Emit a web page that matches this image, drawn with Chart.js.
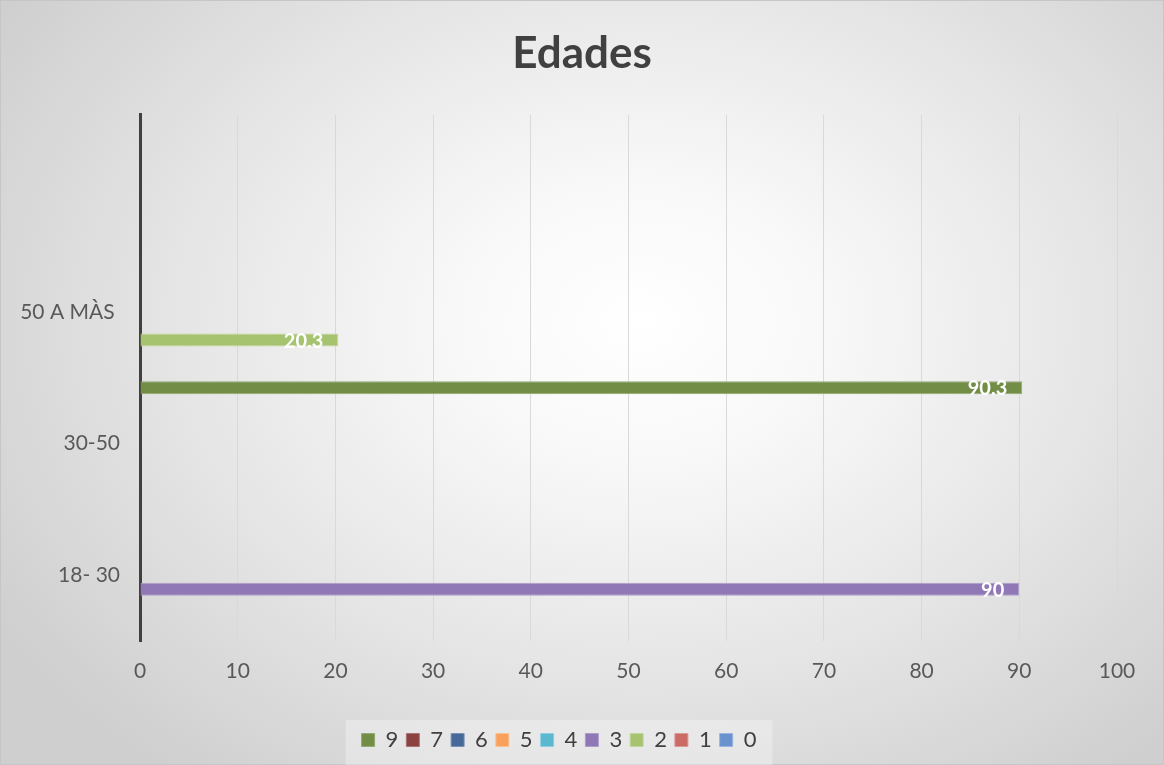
<!DOCTYPE html>
<html>
<head>
<meta charset="utf-8">
<script src="https://cdn.jsdelivr.net/npm/chart.js@4/dist/chart.umd.min.js"></script>
<style>
  html, body { margin: 0; padding: 0; }
  #wrap {
    width: 1164px; height: 765px;
    background: radial-gradient(ellipse 65% 75% at 55% 42%, #ffffff 0%, #f8f8f8 25%, #e6e6e6 60%, #cfcfcf 100%);
    box-shadow: inset 0 0 0 1px #c6c6c6;
  }
</style>
</head>
<body>
<div id="wrap"><canvas id="edades-chart" width="1164" height="765"></canvas></div>
<script>
// categories from top to bottom (the top one has no label)
var categories = ['', '50 A MÀS ', '30-50', '18- 30'];

// series, in legend order
var seriesNames = ['9', '7', '6', '5', '4', '3', '2', '1', '0'];
var s9 = [null, null, 90.3, null];
var s7 = [null, null, null, null];
var s6 = [null, null, null, null];
var s5 = [null, null, null, null];
var s4 = [null, null, null, null];
var s3 = [null, null, null, 90];
var s2 = [null, 20.3, null, null];
var s1 = [null, null, null, null];
var s0 = [null, null, null, null];
var seriesValues = [s9, s7, s6, s5, s4, s3, s2, s1, s0];

var fills = ['#728d46', '#8c4340', '#46699a', '#f9a05e', '#5cb8cf', '#8f78b5', '#a6c46f', '#cc6a66', '#6992ce'];
var edges = ['#93a875', '#a87472', '#7790b5', '#fbbf90', '#8ccde0', '#ae9dcb', '#c1d69b', '#dc9a97', '#98b4de'];

var xTicks = [0, 10, 20, 30, 40, 50, 60, 70, 80, 90, 100];

var fontFamily = 'Lato, "Open Sans", sans-serif';

var datasets = [];
for (var i = 0; i < seriesNames.length; i++) {
    datasets.push({
        label: seriesNames[i],
        data: seriesValues[i],
        backgroundColor: fills[i],
        borderColor: edges[i],
        borderWidth: 1,
        categoryPercentage: 0.956,
        barPercentage: 0.93
    });
}

// white value labels at the inner end of each bar
var valueLabels = {
    id: 'valueLabels',
    afterDatasetsDraw: function (chart) {
        var ctx = chart.ctx;
        ctx.save();
        ctx.fillStyle = '#ffffff';
        ctx.font = 'bold 20px ' + fontFamily;
        ctx.textAlign = 'right';
        ctx.textBaseline = 'middle';
        chart.data.datasets.forEach(function (ds, di) {
            var meta = chart.getDatasetMeta(di);
            meta.data.forEach(function (bar, k) {
                var v = ds.data[k];
                if (v === null || v === undefined) return;
                ctx.fillText(String(v), bar.x - 15, bar.y + 1);
            });
        });
        ctx.restore();
    }
};

// legend sits centred under the plot + axis block, not the whole canvas;
// also paints a light panel behind it
var legendPanel = {
    id: 'legendPanel',
    afterLayout: function (chart) {
        var lg = chart.legend;
        if (!lg) return;
        lg.left -= 23;
        lg.right -= 23;
    },
    beforeDraw: function (chart) {
        var lg = chart.legend;
        if (!lg || !lg.lineWidths) return;
        var w = lg.lineWidths[0];
        var left = (lg.left + lg.right) / 2 - w / 2;
        var ctx = chart.ctx;
        ctx.save();
        ctx.fillStyle = 'rgba(255,255,255,0.3)';
        ctx.fillRect(left - 12, 720, w + 24, 45);
        ctx.restore();
    }
};

var ctx = document.getElementById('edades-chart').getContext('2d');
var chart = new Chart(ctx, {
    type: 'bar',
    data: {
        labels: categories,
        datasets: datasets
    },
    plugins: [legendPanel, valueLabels],
    options: {
        indexAxis: 'y',
        responsive: false,
        animation: false,
        layout: {
            padding: { left: 0, right: 0, top: 0, bottom: 4 }
        },
        plugins: {
            title: {
                display: true,
                text: 'Edades',
                color: '#404040',
                font: { family: fontFamily, size: 44, weight: 'bold' },
                padding: { top: 27, bottom: 35 }
            },
            legend: {
                position: 'bottom',
                labels: {
                    color: '#404040',
                    font: { family: fontFamily, size: 22 },
                    boxWidth: 13,
                    boxHeight: 13,
                    padding: 8
                }
            },
            tooltip: { enabled: false }
        },
        scales: {
            x: {
                min: 0,
                max: 100,
                afterBuildTicks: function (scale) {
                    scale.ticks = xTicks.map(function (v) { return { value: v }; });
                },
                afterFit: function (scale) {
                    scale.height = 80;
                    scale.paddingRight = 47;
                },
                grid: {
                    color: '#d9d9d9',
                    lineWidth: 1,
                    drawTicks: false
                },
                border: { display: false },
                ticks: {
                    color: '#595959',
                    font: { family: fontFamily, size: 21 },
                    padding: 18
                }
            },
            y: {
                grid: { display: false, drawTicks: false },
                border: { display: true, color: '#404040', width: 3 },
                ticks: {
                    color: '#595959',
                    font: { family: fontFamily, size: 21 },
                    padding: 20,
                    autoSkip: false
                },
                afterFit: function (scale) {
                    scale.width = 140;
                }
            }
        }
    }
});
</script>
</body>
</html>
